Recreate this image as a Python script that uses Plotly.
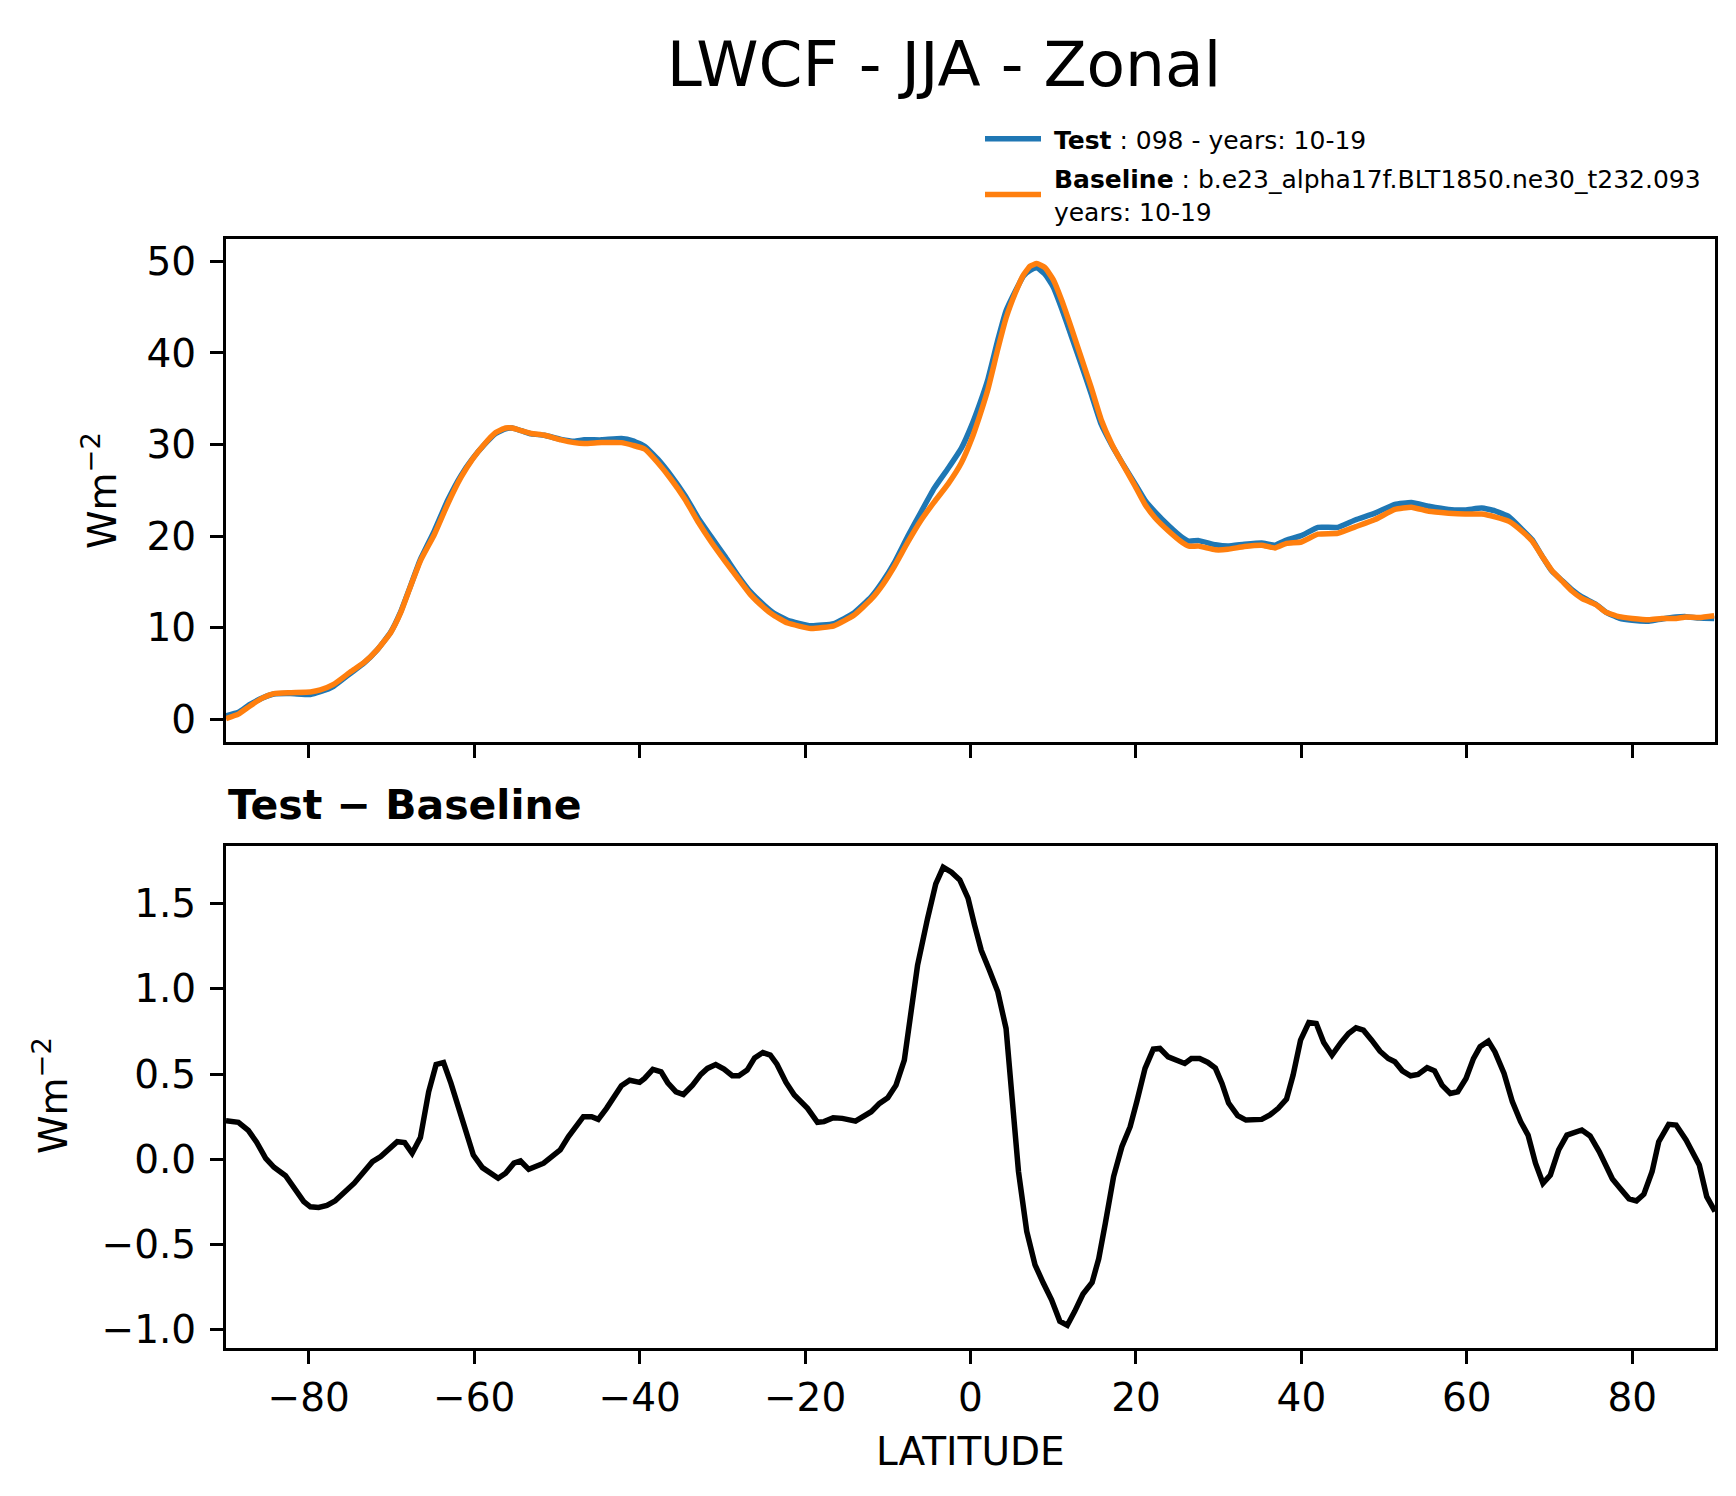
import plotly.graph_objects as go

# ---------------- data ----------------
lat_top = [-90.0, -88.5, -87.1, -85.5, -84.2, -82.2, -79.8, -78.6, -77.0, -74.9, -73.3, -71.7,
           -70.1, -68.9, -67.7, -66.5, -64.8, -63.2, -61.6, -60.2, -58.8, -57.4, -56.2, -55.4,
           -54.3, -53.1, -51.5, -49.5, -47.9, -46.7, -44.6, -42.2, -40.8, -39.4, -37.8, -36.2,
           -34.5, -32.9, -31.3, -29.7, -28.2, -26.6, -25.0, -23.8, -22.1, -19.3, -16.5, -14.1,
           -12.0, -10.6, -9.2, -7.6, -6.0, -4.4, -2.7, -1.1, 0.1, 1.1, 2.1, 3.3, 4.3, 5.4, 6.4,
           7.2, 8.0, 9.0, 10.0, 11.0, 12.2, 13.4, 14.6, 15.8, 17.1, 18.3, 19.9, 21.1, 22.3, 24.0,
           25.6, 26.4, 27.6, 29.6, 31.1, 33.1, 35.2, 36.8, 38.2, 40.0, 42.0, 44.4, 46.5, 48.9,
           51.3, 53.3, 55.4, 57.8, 59.8, 61.8, 63.4, 65.1, 66.7, 67.9, 69.1, 70.3, 71.5, 72.7,
           73.9, 75.6, 76.8, 78.4, 80.0, 82.0, 83.6, 85.3, 86.5, 88.1, 89.9]

test_vals = [0.36, 0.75, 1.62, 2.36, 2.75, 2.8, 2.7, 3.0, 3.6, 5.05, 6.15, 7.6,
             9.5, 11.7, 14.55, 17.45, 20.6, 23.9, 26.6, 28.45, 29.95, 31.2, 31.7, 31.8,
             31.5, 31.15, 31.0, 30.55, 30.35, 30.5, 30.5, 30.65, 30.4, 29.8, 28.4, 26.6,
             24.4, 21.95, 19.85, 17.8, 15.8, 13.9, 12.5, 11.6, 10.8, 10.2, 10.45, 11.6,
             13.35, 15.05, 17.1, 19.95, 22.6, 25.2, 27.4, 29.6, 32.0, 34.4, 37.1, 41.4, 44.6, 46.7, 48.4,
             49.0, 49.3, 48.6, 47.2, 44.9, 41.8, 38.7, 35.5, 32.2, 29.9, 28.05, 25.7, 23.9, 22.65, 21.1,
             19.85, 19.45, 19.5, 19.05, 18.9, 19.1, 19.25, 19.0, 19.55, 20.05, 20.95, 20.95, 21.75, 22.5,
             23.45, 23.65, 23.25, 22.9, 22.85, 23.05, 22.75, 22.1, 20.7, 19.6, 17.8, 16.15, 15.15, 14.15,
             13.35, 12.55, 11.7, 11.05, 10.8, 10.7, 10.95, 11.15, 11.2, 11.05, 11.0]

base_vals = [0.07, 0.55, 1.45, 2.36, 2.8, 2.9, 2.98, 3.2, 3.8, 5.2, 6.2, 7.6,
             9.45, 11.6, 14.5, 17.3, 20.2, 23.5, 26.4, 28.4, 30.0, 31.3, 31.8, 31.8,
             31.5, 31.2, 31.0, 30.5, 30.2, 30.1, 30.2, 30.2, 29.9, 29.5, 28.0, 26.2,
             24.0, 21.5, 19.3, 17.3, 15.5, 13.6, 12.2, 11.35, 10.5, 9.9, 10.2, 11.35,
             13.1, 14.7, 16.7, 19.3, 21.7, 23.7, 25.7, 28.0, 30.5, 33.1, 36.0, 40.4, 43.8, 46.5, 48.5,
             49.45, 49.75, 49.3, 48.0, 45.8, 42.7, 39.45, 36.2, 32.7, 30.0, 28.0, 25.45, 23.45, 22.0, 20.5,
             19.3, 18.9, 18.9, 18.5, 18.55, 18.85, 19.0, 18.7, 19.2, 19.35, 20.2, 20.3, 21.0, 21.8,
             22.9, 23.15, 22.7, 22.5, 22.4, 22.4, 22.1, 21.6, 20.5, 19.45, 17.8, 16.2, 15.1, 14.0,
             13.2, 12.5, 11.7, 11.2, 11.0, 10.85, 11.0, 11.0, 11.15, 11.1, 11.3]

lat_diff = [-90.0, -88.5, -87.3, -86.3, -85.2, -84.2, -82.8, -81.6, -80.6, -79.8, -78.8, -77.8,
            -76.8, -74.5, -73.3, -72.3, -71.3, -70.3, -69.3, -68.4, -67.5, -66.5, -65.5, -64.6,
            -63.7, -62.8, -61.8, -61.0, -60.1, -59.0, -58.0, -57.1, -56.2, -55.2, -54.4, -53.4,
            -51.6, -49.6, -48.6, -46.8, -45.8, -45.0, -44.0, -42.2, -41.2, -40.0, -39.4, -38.4,
            -37.4, -36.6, -35.6, -34.7, -33.6, -32.6, -31.8, -30.8, -29.8, -28.8, -28.0, -27.0,
            -26.1, -25.1, -24.2, -23.4, -22.3, -21.3, -19.7, -18.5, -17.7, -16.6, -15.5, -13.9,
            -12.0, -11.0, -10.0, -9.0, -8.0, -7.2, -6.4, -5.2, -4.2, -3.3, -2.3, -1.3, -0.3, 0.5,
            1.3, 2.3, 3.3, 4.3, 4.9, 5.8, 6.8, 7.8, 8.8, 9.8, 10.8, 11.7, 12.6, 13.6, 14.7, 15.5,
            16.3, 17.3, 18.3, 19.3, 20.1, 21.1, 22.1, 22.9, 23.9, 25.9, 26.7, 27.7, 28.7, 29.6,
            30.4, 31.2, 32.3, 33.3, 35.2, 36.2, 37.2, 38.2, 39.0, 39.9, 40.9, 41.8, 42.7, 43.7,
            44.8, 45.7, 46.6, 47.5, 48.5, 49.5, 50.5, 51.3, 52.2, 53.2, 54.1, 55.2, 56.1, 57.0,
            58.0, 58.9, 59.9, 60.8, 61.6, 62.6, 63.4, 64.5, 65.5, 66.5, 67.4, 68.3, 69.2, 70.1,
            71.1, 72.1, 73.9, 74.9, 76.0, 77.6, 78.6, 79.6, 80.5, 81.4, 82.4, 83.2, 84.4, 85.3,
            86.5, 88.1, 89.0, 90.0]

diff_vals = [0.226, 0.217, 0.17, 0.10, 0.006, -0.047, -0.096, -0.18, -0.248, -0.279, -0.283, -0.271,
             -0.244, -0.14, -0.068, -0.014, 0.016, 0.064, 0.103, 0.098, 0.035, 0.127, 0.396, 0.556,
             0.568, 0.445, 0.279, 0.162, 0.025, -0.049, -0.082, -0.111, -0.082, -0.023, -0.01, -0.059,
             -0.023, 0.055, 0.133, 0.25, 0.25, 0.234, 0.299, 0.431, 0.464, 0.451, 0.474, 0.527,
             0.513, 0.449, 0.396, 0.38, 0.435, 0.498, 0.533, 0.556, 0.529, 0.49, 0.49, 0.523,
             0.595, 0.626, 0.611, 0.558, 0.451, 0.377, 0.299, 0.217, 0.221, 0.244, 0.24, 0.224,
             0.279, 0.328, 0.361, 0.435, 0.582, 0.845, 1.138, 1.411, 1.616, 1.713, 1.684, 1.639, 1.532, 1.372,
             1.226, 1.108, 0.982, 0.767, 0.416, -0.072, -0.423, -0.619, -0.726, -0.824, -0.95, -0.974, -0.892, -0.79, -0.722, -0.584,
             -0.375, -0.101, 0.074, 0.191, 0.338, 0.533, 0.646, 0.65, 0.601, 0.562, 0.591, 0.591, 0.568, 0.535,
             0.445, 0.33, 0.256, 0.23, 0.234, 0.26, 0.299, 0.353, 0.494, 0.699, 0.802, 0.796, 0.685, 0.611,
             0.685, 0.738, 0.771, 0.757, 0.699, 0.634, 0.591, 0.572, 0.519, 0.49, 0.498, 0.537, 0.519, 0.435,
             0.386, 0.396, 0.474, 0.591, 0.66, 0.693, 0.63, 0.504, 0.338, 0.221, 0.142, -0.023, -0.141, -0.092,
             0.055, 0.142, 0.172, 0.137, 0.045, -0.115, -0.174, -0.232, -0.244, -0.205, -0.072, 0.103, 0.205, 0.201,
             0.113, -0.033, -0.219, -0.306]

x_ticks = [-80, -60, -40, -20, 0, 20, 40, 60, 80]
top_yticks = [0, 10, 20, 30, 40, 50]
bot_yticks = [-1.0, -0.5, 0.0, 0.5, 1.0, 1.5]

NB = "\u00a0"
test_label = NB + "<b>Test</b> : 098 - years: 10-19"
base_label = NB + "<b>Baseline</b> : b.e23_alpha17f.BLT1850.ne30_t232.093<br>" + NB + "years: 10-19"

# ---------------- figure ----------------
FONT = "DejaVu Sans"
W, H = 1736, 1496
ML, MR, MT, MB = 218, 29, 231, 156
PW, PH = W - ML - MR, H - MT - MB

fig = go.Figure()
fig.add_trace(go.Scatter(x=lat_top, y=test_vals, mode="lines", name=test_label,
                         legendgroup="test",
                         line=dict(color="#1f77b4", width=5.5, shape="spline", smoothing=0.4),
                         xaxis="x", yaxis="y"))
fig.add_trace(go.Scatter(x=lat_top, y=base_vals, mode="lines", name=base_label,
                         legendgroup="base",
                         line=dict(color="#ff7f0e", width=5.5, shape="spline", smoothing=0.4),
                         xaxis="x", yaxis="y"))
fig.add_trace(go.Scatter(x=lat_diff, y=diff_vals, mode="lines", showlegend=False,
                         line=dict(color="black", width=5.5),
                         xaxis="x2", yaxis="y2"))

axis_common = dict(showline=True, linecolor="black", linewidth=3, mirror=True,
                   ticks="outside", ticklen=13, tickwidth=3, tickcolor="black",
                   showgrid=False, zeroline=False, automargin=False, tickangle=0,
                   tickfont=dict(family=FONT, size=39, color="black"))

fig.update_layout(
    width=W, height=H,
    margin=dict(l=ML, r=MR, t=MT, b=MB, autoexpand=False),
    paper_bgcolor="white", plot_bgcolor="white",
    font=dict(family=FONT, color="black"),
    xaxis=dict(domain=[0, 1], range=[-90, 90], tickvals=x_ticks, showticklabels=False,
               anchor="y", **axis_common),
    yaxis=dict(domain=[0.546, 1], range=[-2.54, 52.43], tickvals=top_yticks,
               anchor="x", ticklabelstandoff=6, **axis_common),
    xaxis2=dict(domain=[0, 1], range=[-90, 90], tickvals=x_ticks, anchor="y2",
                matches="x", ticklabelstandoff=0, **axis_common),
    yaxis2=dict(domain=[0, 0.453], range=[-1.107, 1.84], tickvals=bot_yticks,
                tickformat=".1f", anchor="x2", ticklabelstandoff=6, **axis_common),
    title=dict(text="LWCF - JJA - Zonal", font=dict(family=FONT, size=63, color="black"),
               x=(936 - ML) / PW, xref="paper", xanchor="center",
               y=1 - 56 / H, yref="container", yanchor="middle"),
    legend=dict(x=972 / W, xref="container", xanchor="left",
                y=1 - 108 / H, yref="container", yanchor="top",
                font=dict(family=FONT, size=25, color="black"),
                bgcolor="rgba(0,0,0,0)", valign="middle", tracegroupgap=4,
                itemwidth=56),
    showlegend=True,
)

ann_font = dict(family=FONT, size=39, color="black")
fig.add_annotation(text="<b>Test − Baseline</b>", xref="paper", yref="paper",
                   x=0, y=(H - MB - 797) / PH, xanchor="left", yanchor="middle",
                   showarrow=False, font=dict(family=FONT, size=41, color="black"))
fig.add_annotation(text="LATITUDE", xref="paper", yref="paper",
                   x=0.5, y=(H - MB - 1443) / PH, xanchor="center", yanchor="middle",
                   showarrow=False, font=ann_font)
fig.add_annotation(text="Wm<sup>−2</sup>", xref="paper", yref="paper", textangle=-90,
                   x=(92 - ML) / PW, y=(H - MB - 483) / PH,
                   xanchor="center", yanchor="middle", showarrow=False, font=ann_font)
fig.add_annotation(text="Wm<sup>−2</sup>", xref="paper", yref="paper", textangle=-90,
                   x=(43 - ML) / PW, y=(H - MB - 1088) / PH,
                   xanchor="center", yanchor="middle", showarrow=False, font=ann_font)

fig.write_html("out.html")
